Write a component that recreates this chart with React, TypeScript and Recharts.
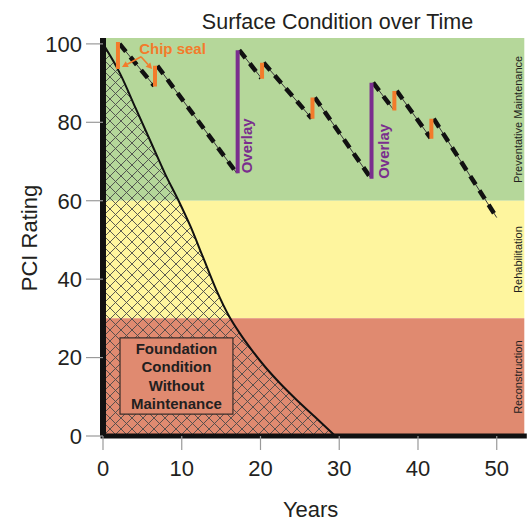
import React from 'react';
import {
  ComposedChart,
  Line,
  Area,
  XAxis,
  YAxis,
  ReferenceArea,
  ReferenceLine,
  ReferenceDot,
} from 'recharts';

const FONT = '"Liberation Sans", Arial, Helvetica, sans-serif';
const GREEN = '#B5D79A';
const YELLOW = '#FEF59E';
const SALMON = '#E08A70';
const ORANGE = '#F37B2B';
const PURPLE = '#7A2E8E';
const INK = '#231F20';

// ---------- axes ----------
const xTicks = [0, 10, 20, 30, 40, 50];
const yTicks = [0, 20, 40, 60, 80, 100];
const xDomainMax = 53.5;
const yDomainMax = 101.5;

// ---------- condition bands ----------
const bandNames = ['Preventative Maintenance', 'Rehabilitation', 'Reconstruction'];
const bandLow = [60, 30, 0];
const bandHigh = [101.5, 60, 30];
const bandColors = [GREEN, YELLOW, SALMON];

// ---------- condition without maintenance ----------
const decayYears = [0, 2.2, 4.1, 6.0, 7.9, 9.6, 11.1, 12.7, 14.4, 16.05, 17.4, 18.9, 20.6, 22.5, 24.6, 26.9, 29.5];
const decayPCI = [100, 92.3, 83.8, 75.3, 66.8, 60, 53.5, 45.6, 37.2, 30.4, 26.1, 21.9, 17.6, 13.4, 9.2, 4.9, 0];

// ---------- maintained pavement path ----------
const pathStartYear = [2.1, 6.9, 17.3, 20.4, 26.9, 34.3, 37.3, 42.0];
const pathStartPCI = [100, 94.4, 98.4, 95.2, 86.3, 90.1, 88.0, 80.9];
const pathEndYear = [6.5, 17.0, 20.1, 26.5, 34.0, 36.9, 41.6, 50.0];
const pathEndPCI = [89.3, 67.0, 91.3, 81.0, 65.8, 83.2, 76.0, 55.7];

// ---------- treatments ----------
const chipSealYear = [1.9, 6.6, 20.2, 26.6, 37.0, 41.7];
const chipSealFrom = [93.6, 89.1, 91.1, 80.9, 83.0, 75.8];
const chipSealTo = [100.5, 94.4, 95.2, 86.3, 88.0, 80.9];

const overlayYear = [17.1, 34.1];
const overlayFrom = [67.0, 65.6];
const overlayTo = [98.4, 90.1];

// ---------- annotations (data units) ----------
const chipLabelYear = 8.83;
const chipLabelPCI = 97.3;
const chipArrowFromYear = 4.83;
const chipArrowFromPCI = 96.7;
const chipArrowToYear = [2.41, 6.23];
const chipArrowToPCI = [94.1, 93.6];

const overlayLabelYear = [18.96, 36.3];
const overlayLabelPCI = [74.0, 72.6];

const foundationLines = ['Foundation', 'Condition', 'Without', 'Maintenance'];
const foundationBoxYears = [2.16, 16.5];
const foundationBoxPCI = [5.6, 25.0];

// ---------- derived series ----------
const decayData = decayYears.map((x, i) => ({ x, y: decayPCI[i] }));
const pathData = pathStartYear.flatMap((x, i) => [
  { x, y: pathStartPCI[i] as number | null },
  { x: pathEndYear[i], y: pathEndPCI[i] as number | null },
  { x: pathEndYear[i], y: null as number | null },
]);
const barData = (years: number[], from: number[], to: number[]) =>
  years.flatMap((x, i) => [
    { x, y: from[i] as number | null },
    { x, y: to[i] as number | null },
    { x, y: null as number | null },
  ]);
const chipBars = barData(chipSealYear, chipSealFrom, chipSealTo);
const overlayBars = barData(overlayYear, overlayFrom, overlayTo);

// ---------- renderers ----------
const bandLabel = (text: string) => (props: any) => {
  const vb = props.viewBox;
  if (!vb) return null;
  const x = vb.x + vb.width - 2.5;
  const y = vb.y + vb.height / 2;
  return (
    <text
      x={x}
      y={y}
      transform={`rotate(-90 ${x} ${y})`}
      textAnchor="middle"
      fontSize={11}
      fill={INK}
      fontFamily={FONT}
    >
      {text}
    </text>
  );
};

const boxLabel = (props: any) => {
  const vb = props.viewBox;
  if (!vb) return null;
  const cx = vb.x + vb.width / 2;
  const cy = vb.y + vb.height / 2;
  const lh = 18.2;
  const n = foundationLines.length;
  return (
    <text textAnchor="middle" fontSize={15} fontWeight="bold" fill={INK} fontFamily={FONT}>
      {foundationLines.map((t, i) => (
        <tspan key={t} x={cx} y={cy + (i - (n - 1) / 2) * lh} dy="0.36em">
          {t}
        </tspan>
      ))}
    </text>
  );
};

const Arrow = (p: any) => {
  const { x1, y1, x2, y2 } = p;
  if ([x1, y1, x2, y2].some((v) => v == null || Number.isNaN(v))) return null;
  const ang = Math.atan2(y2 - y1, x2 - x1);
  const L = 6;
  const W = 3.2;
  const bx = x2 - L * Math.cos(ang);
  const by = y2 - L * Math.sin(ang);
  const px = -Math.sin(ang) * W;
  const py = Math.cos(ang) * W;
  return (
    <g>
      <line x1={x1} y1={y1} x2={bx} y2={by} stroke={ORANGE} strokeWidth={1.6} />
      <polygon points={`${x2},${y2} ${bx + px},${by + py} ${bx - px},${by - py}`} fill={ORANGE} />
    </g>
  );
};

const overlayText = (p: any) => (
  <text
    x={p.cx}
    y={p.cy}
    transform={`rotate(-90 ${p.cx} ${p.cy})`}
    textAnchor="middle"
    fontSize={15}
    fontWeight="bold"
    fill={PURPLE}
    fontFamily={FONT}
  >
    Overlay
  </text>
);

const chipText = (p: any) => (
  <text
    x={p.cx}
    y={p.cy}
    textAnchor="middle"
    fontSize={15}
    fontWeight="bold"
    fill={ORANGE}
    fontFamily={FONT}
  >
    Chip seal
  </text>
);

const yLabel = (props: any) => {
  const vb = props.viewBox;
  if (!vb) return null;
  const x = vb.x + 37;
  const y = vb.y + vb.height / 2 + 1;
  return (
    <text
      x={x}
      y={y}
      transform={`rotate(-90 ${x} ${y})`}
      textAnchor="middle"
      fontSize={22}
      fill={INK}
      fontFamily={FONT}
    >
      PCI Rating
    </text>
  );
};

const xLabel = (props: any) => {
  const vb = props.viewBox;
  if (!vb) return null;
  return (
    <text
      x={vb.x + vb.width / 2 - 3}
      y={vb.y + vb.height - 6}
      textAnchor="middle"
      fontSize={22}
      fill={INK}
      fontFamily={FONT}
    >
      Years
    </text>
  );
};

export default function App() {
  return (
    <div style={{ position: 'absolute', left: 0, top: 0, width: 529, height: 523, background: '#fff' }}>
      <div
        style={{
          position: 'absolute',
          left: 0,
          width: 675,
          top: 12,
          textAlign: 'center',
          fontFamily: FONT,
          fontSize: 21.5,
          lineHeight: '21px',
          color: INK,
          whiteSpace: 'nowrap',
        }}
      >
        Surface Condition over Time
      </div>
      <ComposedChart
        width={529}
        height={523}
        margin={{ top: 38, right: 4.7, bottom: 0, left: 0 }}
        style={{ fontFamily: FONT }}
      >
        <defs>
          <pattern id="hatch" width="11" height="11" patternUnits="userSpaceOnUse">
            <path d="M0,0 L11,11 M11,0 L0,11" stroke="#4a4a4a" strokeWidth={0.9} />
          </pattern>
        </defs>

        {bandNames.map((name, i) => (
          <ReferenceArea
            key={name}
            y1={bandLow[i]}
            y2={bandHigh[i]}
            fill={bandColors[i]}
            fillOpacity={1}
            stroke="none"
            ifOverflow="extendDomain"
            label={bandLabel(name)}
          />
        ))}

        <XAxis
          dataKey="x"
          type="number"
          domain={[0, xDomainMax]}
          allowDataOverflow
          ticks={xTicks}
          height={87}
          tickSize={14}
          tickMargin={10}
          tick={{ fill: INK, fontSize: 22, fontFamily: FONT }}
          tickLine={{ stroke: '#9a9a9a', strokeWidth: 1.2 }}
          axisLine={{ stroke: '#111', strokeWidth: 5, strokeLinecap: 'square' }}
          label={xLabel}
        />
        <YAxis
          type="number"
          domain={[0, yDomainMax]}
          allowDataOverflow
          ticks={yTicks}
          width={103}
          tickSize={17}
          tickMargin={4}
          tick={{ fill: INK, fontSize: 22, fontFamily: FONT }}
          tickLine={{ stroke: '#9a9a9a', strokeWidth: 1.2 }}
          axisLine={{ stroke: '#111', strokeWidth: 6 }}
          label={yLabel}
        />

        <Area
          data={decayData}
          dataKey="y"
          type="monotone"
          stroke="#111"
          strokeWidth={2}
          fill="url(#hatch)"
          fillOpacity={1}
          dot={false}
          activeDot={false}
          isAnimationActive={false}
        />

        <ReferenceArea
          x1={foundationBoxYears[0]}
          x2={foundationBoxYears[1]}
          y1={foundationBoxPCI[0]}
          y2={foundationBoxPCI[1]}
          fill={SALMON}
          fillOpacity={1}
          stroke="#3a2e2a"
          strokeWidth={1.2}
          label={boxLabel}
        />

        <Line
          data={pathData}
          dataKey="y"
          type="linear"
          stroke="#3a3a3a"
          strokeWidth={1}
          dot={false}
          activeDot={false}
          connectNulls={false}
          isAnimationActive={false}
        />
        <Line
          data={pathData}
          dataKey="y"
          type="linear"
          stroke="#111"
          strokeWidth={4.5}
          strokeDasharray="10 7"
          dot={false}
          activeDot={false}
          connectNulls={false}
          isAnimationActive={false}
        />
        <Line
          data={chipBars}
          dataKey="y"
          type="linear"
          stroke={ORANGE}
          strokeWidth={4}
          dot={false}
          activeDot={false}
          connectNulls={false}
          isAnimationActive={false}
        />
        <Line
          data={overlayBars}
          dataKey="y"
          type="linear"
          stroke={PURPLE}
          strokeWidth={4}
          dot={false}
          activeDot={false}
          connectNulls={false}
          isAnimationActive={false}
        />

        {chipArrowToYear.map((tx, i) => (
          <ReferenceLine
            key={`arrow-${i}`}
            segment={[
              { x: chipArrowFromYear, y: chipArrowFromPCI },
              { x: tx, y: chipArrowToPCI[i] },
            ]}
            shape={Arrow}
          />
        ))}

        <ReferenceDot x={chipLabelYear} y={chipLabelPCI} r={1} shape={chipText} />
        {overlayLabelYear.map((ox, i) => (
          <ReferenceDot key={`ov-${i}`} x={ox} y={overlayLabelPCI[i]} r={1} shape={overlayText} />
        ))}
      </ComposedChart>
    </div>
  );
}
